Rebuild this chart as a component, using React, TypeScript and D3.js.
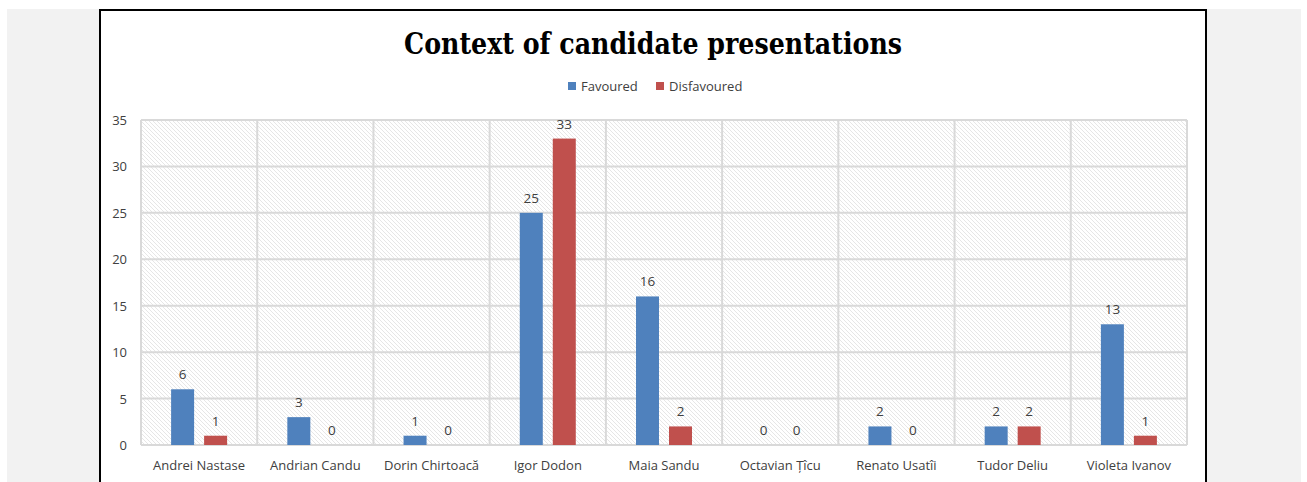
import React from "react";
import * as d3 from "d3";

const categories = ["Andrei Nastase", "Andrian Candu", "Dorin Chirtoacă", "Igor Dodon", "Maia Sandu", "Octavian Țîcu", "Renato Usatîi", "Tudor Deliu", "Violeta Ivanov"];
const favoured = [6, 3, 1, 25, 16, 0, 2, 2, 13];
const disfavoured = [1, 0, 0, 33, 2, 0, 0, 2, 1];
const seriesNames = ["Favoured", "Disfavoured"];
const seriesColors = ["#4f81bd", "#c0504d"];
const yTicks = [0, 5, 10, 15, 20, 25, 30, 35];
const title = "Context of candidate presentations";

export default function App() {
  const W = 1307, H = 482;
  const left = 141, right = 1187, top = 120, bottom = 445;
  const x = d3.scaleBand<string>().domain(categories).range([left, right]);
  const y = d3.scaleLinear().domain([0, 35]).range([bottom, top]);
  const barW = 23, gap = 10;
  const series = [favoured, disfavoured];
  const font = "'Open Sans', 'Noto Sans', sans-serif";
  const bounds = categories.map((_, i) => left + i * x.step());
  bounds.push(right);
  return (
    <svg width={W} height={H} style={{ position: "absolute", left: 0, top: 0 }}>
      <defs>
        <pattern id="hatch" patternUnits="userSpaceOnUse" width="4" height="4">
          <rect width="4" height="4" fill="#ffffff" />
          <path d="M-1,-1 L5,5 M-1,3 L1,5 M3,-1 L5,1" stroke="#e3e3e3" strokeWidth="0.9" />
        </pattern>
      </defs>
      <rect x={7} y={9} width={1294} height={H - 9} fill="#f2f2f2" />
      <rect x={100} y={10} width={1106} height={H} fill="#ffffff" stroke="#000" strokeWidth={2} />
      <text x={653} y={54} textAnchor="middle" fontFamily="'DejaVu Serif', serif" fontWeight="bold" fontSize={29} fill="#000" textLength={498} lengthAdjust="spacingAndGlyphs">{title}</text>
      {seriesNames.map((s, i) => {
        const lx = i === 0 ? 568 : 656;
        return (
          <g key={s}>
            <rect x={lx} y={82} width={8} height={8} fill={seriesColors[i]} />
            <text x={lx + 13} y={91} fontFamily={font} fontSize={13} fill="#404040">{s}</text>
          </g>
        );
      })}
      <rect x={left} y={top} width={right - left} height={bottom - top} fill="url(#hatch)" />
      {yTicks.map(t => (
        <g key={t}>
          <line x1={left} x2={right} y1={y(t)} y2={y(t)} stroke="#d9d9d9" strokeWidth={2} />
          <text x={127} y={y(t) + 5} textAnchor="end" fontFamily={font} fontSize={13} fill="#404040">{t}</text>
        </g>
      ))}
      {bounds.map((b, i) => (
        <line key={i} x1={b} x2={b} y1={top} y2={bottom} stroke="#d9d9d9" strokeWidth={2} />
      ))}
      {categories.map((c, ci) => {
        const cx = (x(c) as number) + x.bandwidth() / 2;
        return (
          <g key={c}>
            {series.map((vals, si) => {
              const bx = si === 0 ? cx - gap / 2 - barW : cx + gap / 2;
              const v = vals[ci];
              return (
                <g key={si}>
                  {v > 0 && <rect x={bx} y={y(v)} width={barW} height={bottom - y(v)} fill={seriesColors[si]} />}
                  <text x={bx + barW / 2} y={y(v) - 10} textAnchor="middle" fontFamily={font} fontSize={13.5} fill="#404040">{v}</text>
                </g>
              );
            })}
            <text x={cx} y={470} textAnchor="middle" fontFamily={font} fontSize={13} fill="#404040">{c}</text>
          </g>
        );
      })}
    </svg>
  );
}
